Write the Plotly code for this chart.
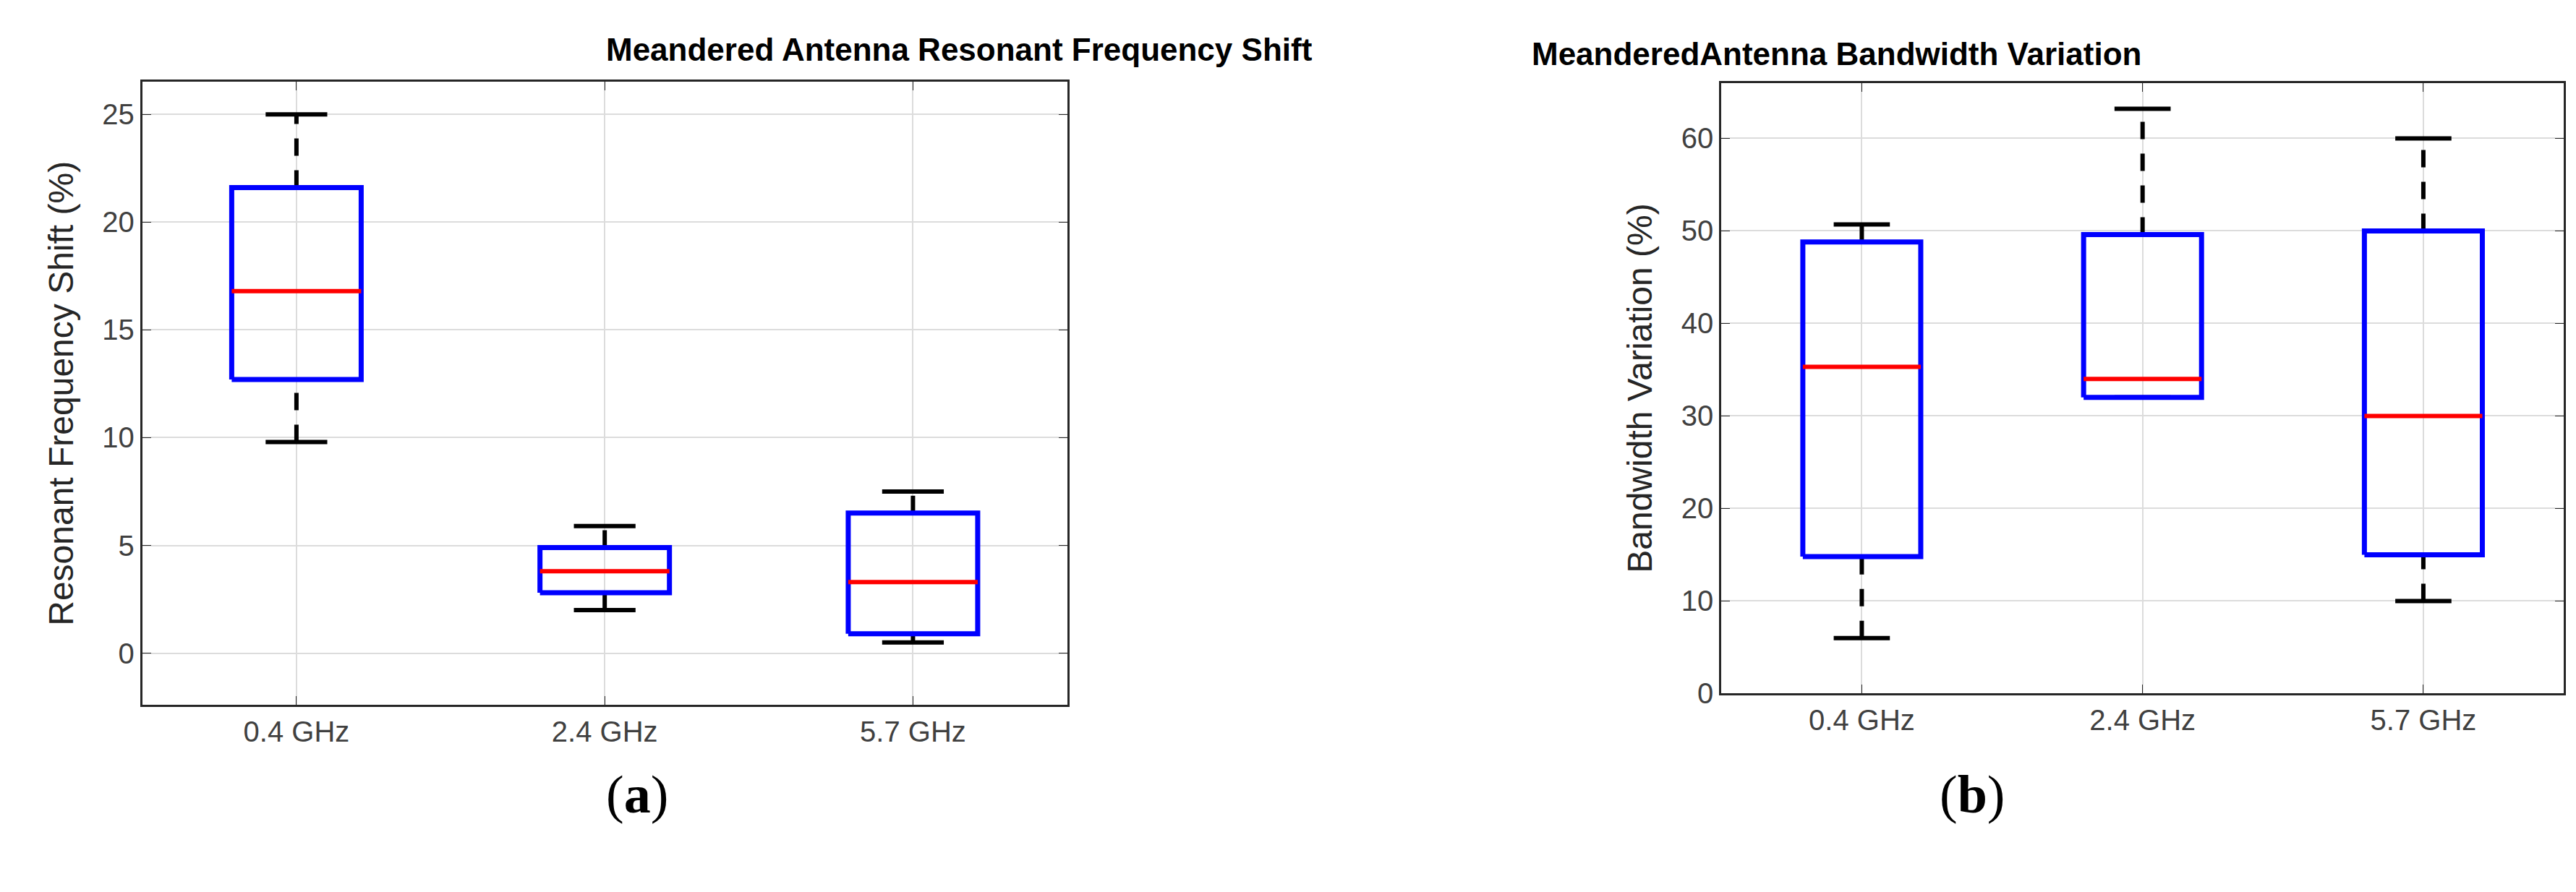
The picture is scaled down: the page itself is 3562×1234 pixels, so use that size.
import plotly.graph_objects as go

cats = ["0.4 GHz", "2.4 GHz", "5.7 GHz"]
a_low = [9.8, 2.0, 0.5]
a_q1 = [12.7, 2.8, 0.9]
a_med = [16.8, 3.8, 3.3]
a_q3 = [21.6, 4.9, 6.5]
a_high = [25.0, 5.9, 7.5]
b_low = [6.0, 32.0, 10.0]
b_q1 = [14.8, 32.0, 15.0]
b_med = [35.3, 34.0, 30.0]
b_q3 = [48.8, 49.6, 50.0]
b_high = [50.7, 63.2, 60.0]

fig = go.Figure()
HW, CW = 0.21, 0.1

def add(xa, ya, low, q1, med, q3, high):
    for i in range(len(cats)):
        x = i
        for a, b in ((q3[i], high[i]), (low[i], q1[i])):
            if b > a:
                fig.add_trace(go.Scatter(x=[x, x], y=[a, b], mode="lines", xaxis=xa, yaxis=ya,
                                         line=dict(color="black", width=6, dash="24px,20px")))
        for v in (low[i], high[i]):
            fig.add_trace(go.Scatter(x=[x - CW, x + CW], y=[v, v], mode="lines", xaxis=xa, yaxis=ya,
                                     line=dict(color="black", width=6)))
        fig.add_trace(go.Scatter(x=[x - HW, x + HW, x + HW, x - HW, x - HW],
                                 y=[q1[i], q1[i], q3[i], q3[i], q1[i]], mode="lines", xaxis=xa, yaxis=ya,
                                 line=dict(color="blue", width=7)))
        fig.add_trace(go.Scatter(x=[x - HW, x + HW], y=[med[i], med[i]], mode="lines", xaxis=xa, yaxis=ya,
                                 line=dict(color="red", width=6)))

add("x", "y", a_low, a_q1, a_med, a_q3, a_high)
add("x2", "y2", b_low, b_q1, b_med, b_q3, b_high)

F = "Arial, Liberation Sans"
ax = dict(showline=True, linecolor="#262626", linewidth=3, mirror="ticks", ticks="inside", ticklen=12,
          tickcolor="#262626", showgrid=True, gridcolor="#dcdcdc", gridwidth=2, zeroline=False,
          tickfont=dict(family=F, size=40, color="#404040"))
xax = dict(ax, range=[-0.5, 2.5], tickvals=[0, 1, 2], ticktext=cats)
fig.update_layout(
    width=3562, height=1234, showlegend=False, plot_bgcolor="white", paper_bgcolor="white",
    margin=dict(l=0, r=0, t=0, b=0),
    xaxis=dict(xax, domain=[0.053, 0.412], anchor="y"),
    yaxis=dict(ax, domain=[0.202, 0.913], range=[-2.4, 26.5], tickvals=[0, 5, 10, 15, 20, 25], anchor="x",
               title=dict(text="Resonant Frequency Shift (%)", font=dict(family=F, size=48, color="#262626"), standoff=25)),
    xaxis2=dict(xax, domain=[0.666, 0.993], anchor="y2"),
    yaxis2=dict(ax, domain=[0.215, 0.912], range=[0, 66], tickvals=[0, 10, 20, 30, 40, 50, 60], anchor="x2",
                title=dict(text="Bandwidth Variation (%)", font=dict(family=F, size=48, color="#262626"), standoff=25)),
    annotations=[
        dict(text="<b>Meandered Antenna Resonant Frequency Shift</b>", x=0.2325, y=0.95, xref="paper", yref="paper",
             showarrow=False, yanchor="middle", font=dict(family=F, size=44, color="black")),
        dict(text="<b>MeanderedAntenna Bandwidth Variation</b>", x=0.8295, y=0.945, xref="paper", yref="paper",
             showarrow=False, yanchor="middle", font=dict(family=F, size=44, color="black")),
        dict(text="(<b>a</b>)", x=0.2325, y=0.1, xref="paper", yref="paper", showarrow=False, yanchor="middle",
             font=dict(family="Liberation Serif", size=74, color="black")),
        dict(text="(<b>b</b>)", x=0.7765, y=0.1, xref="paper", yref="paper", showarrow=False, yanchor="middle",
             font=dict(family="Liberation Serif", size=74, color="black")),
    ],
)
fig.write_html("out.html")
